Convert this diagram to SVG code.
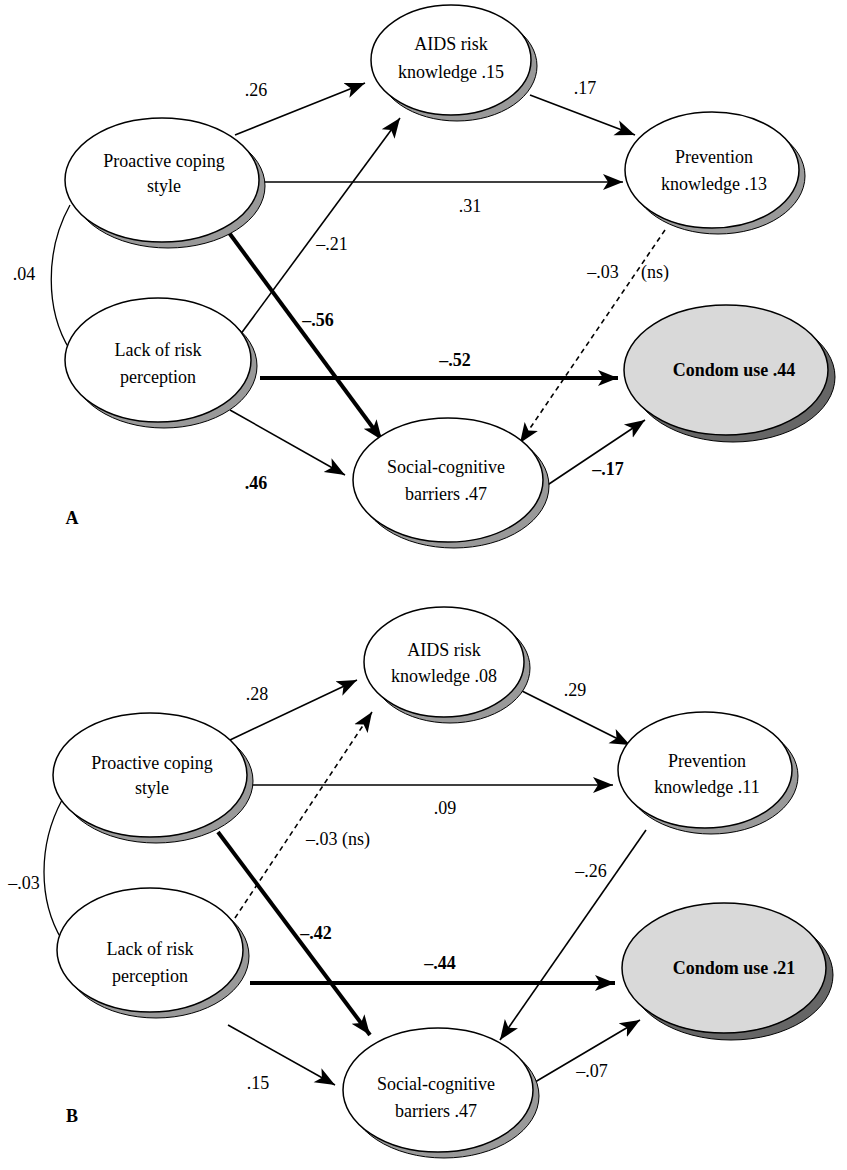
<svg xmlns="http://www.w3.org/2000/svg" width="847" height="1170" viewBox="0 0 847 1170" font-family="'Liberation Serif', 'Times New Roman', 'DejaVu Serif', serif">
<style>
text{font-family:'Liberation Serif','Times New Roman','DejaVu Serif',serif;font-size:18px;fill:#000;text-anchor:middle}
.b{font-weight:bold}
.n{fill:#fff;stroke:#000;stroke-width:1.5}
.s{fill:#999;stroke:#000;stroke-width:1}
.c{fill:#d9d9d9;stroke:#000;stroke-width:1.5}
.cs{fill:#666;stroke:#000;stroke-width:1}
.e{stroke:#000;stroke-width:1.6;fill:none;marker-end:url(#a)}
.t{stroke-width:4}
.d{stroke-dasharray:5,4}
</style>
<defs>
<marker id="a" markerUnits="userSpaceOnUse" markerWidth="22" markerHeight="18" refX="20" refY="9" orient="auto">
<path d="M0,1 L20,9 L0,17 L5,9 Z" fill="#000"/>
</marker>
</defs>
<rect width="847" height="1170" fill="#fff"/>
<g id="connectors">
<path class="e" d="M235,135 L365,83"/>
<path class="e" d="M530,95 L635,135"/>
<path class="e" d="M258,182 L623,182"/>
<path class="e" d="M240,335 L400,118"/>
<path class="e t" d="M227,230 L382,440"/>
<path class="e d" d="M665,230 L520,443"/>
<path class="e t" d="M260,378 L618,378"/>
<path class="e" d="M230,410 L345,475"/>
<path class="e" d="M540,490 L645,420"/>
<path d="M70,205 C45,250 45,310 70,350" fill="none" stroke="#000" stroke-width="1.3"/>
<path class="e" d="M230,740 L357,680"/>
<path class="e" d="M520,690 L630,745"/>
<path class="e" d="M250,785 L613,785"/>
<path class="e d" d="M225,933 L372,712"/>
<path class="e t" d="M218,832 L370,1035"/>
<path class="e" d="M646,830 L500,1040"/>
<path class="e t" d="M250,983 L615,983"/>
<path class="e" d="M228,1025 L335,1085"/>
<path class="e" d="M530,1085 L640,1020"/>
<path d="M62,800 C38,845 38,900 62,940" fill="none" stroke="#000" stroke-width="1.3"/>
</g>
<g id="aidsA"><ellipse class="s" cx="457" cy="66" rx="80" ry="55"/><ellipse class="n" cx="451" cy="60" rx="80" ry="55"/><text x="451" y="50">AIDS risk</text><text x="451" y="78">knowledge .15</text></g>
<g id="proA"><ellipse class="s" cx="168" cy="186" rx="97" ry="62"/><ellipse class="n" cx="162" cy="180" rx="97" ry="62"/><text x="164" y="167">Proactive coping</text><text x="164" y="192">style</text></g>
<g id="prevA"><ellipse class="s" cx="718" cy="176" rx="87" ry="58"/><ellipse class="n" cx="712" cy="170" rx="87" ry="58"/><text x="714" y="163">Prevention</text><text x="714" y="190">knowledge .13</text></g>
<g id="lackA"><ellipse class="s" cx="164" cy="366" rx="93" ry="62"/><ellipse class="n" cx="158" cy="360" rx="93" ry="62"/><text x="158" y="356">Lack of risk</text><text x="158" y="383">perception</text></g>
<g id="condomA"><ellipse class="cs" cx="733" cy="377" rx="102" ry="65"/><ellipse class="c" cx="726" cy="370" rx="102" ry="65"/><text class="b" x="734" y="376">Condom use .44</text></g>
<g id="socA"><ellipse class="s" cx="454" cy="486" rx="95" ry="62"/><ellipse class="n" cx="448" cy="480" rx="95" ry="62"/><text x="446" y="473">Social-cognitive</text><text x="446" y="500">barriers .47</text></g>
<g id="aidsB"><ellipse class="s" cx="450" cy="668" rx="80" ry="55"/><ellipse class="n" cx="444" cy="662" rx="80" ry="55"/><text x="444" y="656">AIDS risk</text><text x="444" y="682">knowledge .08</text></g>
<g id="proB"><ellipse class="s" cx="156" cy="781" rx="97" ry="62"/><ellipse class="n" cx="150" cy="775" rx="97" ry="62"/><text x="152" y="769">Proactive coping</text><text x="152" y="794">style</text></g>
<g id="prevB"><ellipse class="s" cx="711" cy="776" rx="87" ry="58"/><ellipse class="n" cx="705" cy="770" rx="87" ry="58"/><text x="707" y="767">Prevention</text><text x="707" y="793">knowledge .11</text></g>
<g id="lackB"><ellipse class="s" cx="156" cy="956" rx="93" ry="62"/><ellipse class="n" cx="150" cy="950" rx="93" ry="62"/><text x="150" y="955">Lack of risk</text><text x="150" y="982">perception</text></g>
<g id="condomB"><ellipse class="cs" cx="731" cy="975" rx="102" ry="65"/><ellipse class="c" cx="724" cy="968" rx="102" ry="65"/><text class="b" x="734" y="974">Condom use .21</text></g>
<g id="socB"><ellipse class="s" cx="444" cy="1096" rx="95" ry="62"/><ellipse class="n" cx="438" cy="1090" rx="95" ry="62"/><text x="436" y="1090">Social-cognitive</text><text x="436" y="1117">barriers .47</text></g>
<g id="labels">
<text x="256" y="96">.26</text><text x="585" y="94">.17</text><text x="470" y="212">.31</text>
<text x="332" y="250">–.21</text><text class="b" x="318" y="326">–.56</text><text x="603" y="278">–.03</text><text x="655" y="278">(ns)</text>
<text class="b" x="455" y="366">–.52</text><text class="b" x="256" y="489">.46</text><text class="b" x="608" y="475">–.17</text>
<text x="24" y="280">.04</text><text class="b" x="72" y="524">A</text>
<text x="257" y="700">.28</text><text x="575" y="696">.29</text><text x="445" y="814">.09</text>
<text x="338" y="845">–.03 (ns)</text><text class="b" x="316" y="939">–.42</text><text x="591" y="877">–.26</text>
<text class="b" x="440" y="969">–.44</text><text x="258" y="1089">.15</text><text x="592" y="1077">–.07</text>
<text x="24" y="889">–.03</text><text class="b" x="72" y="1122">B</text>
</g>
</svg>
